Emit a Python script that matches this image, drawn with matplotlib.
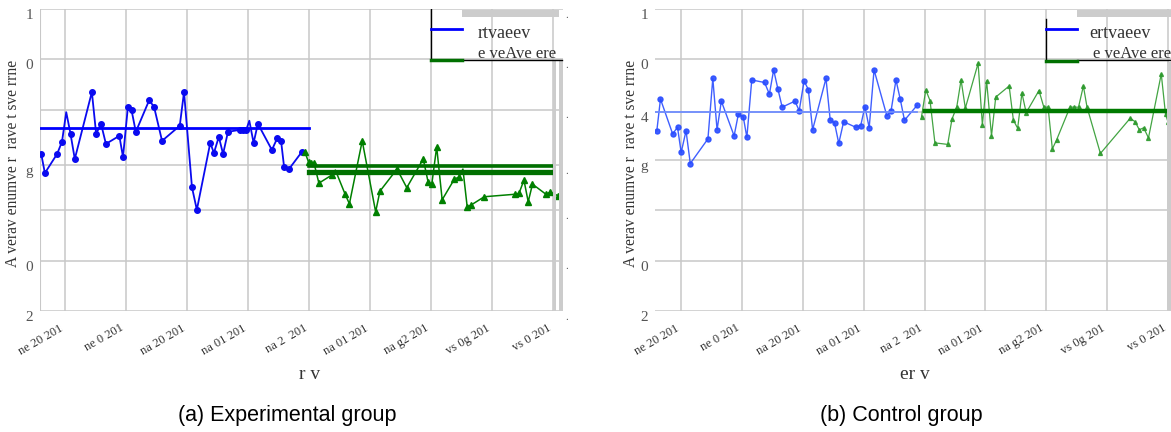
import matplotlib.pyplot as plt

# -------------------------------
# Data (x in tick intervals, y in grid units)
# -------------------------------

tick_labels = ["ne 20 201", "ne 0 201", "na 20 201", "na 01 201", "na 2  201",
               "na 01 201", "na g2 201", "vs 0g 201", "vs 0 201"]

# (a) experimental group
exp_before_x = [-0.39, -0.33, -0.13, -0.05, 0.02, 0.09, 0.16, 0.44, 0.51, 0.59,
                0.67, 0.89, 0.95, 1.03, 1.09, 1.16, 1.38, 1.46, 1.59, 1.88,
                1.95, 2.08, 2.16, 2.38, 2.44, 2.52, 2.59, 2.67, 2.87, 2.92,
                2.97, 3.02, 3.09, 3.16, 3.39, 3.48, 3.54, 3.59, 3.67, 3.88]
exp_before_y = [3.12, 2.74, 3.12, 3.36, 3.95, 3.52, 3.02, 4.35, 3.52, 3.72,
                3.32, 3.48, 3.06, 4.05, 3.99, 3.56, 4.19, 4.05, 3.38, 3.68,
                4.35, 2.46, 2.01, 3.34, 3.14, 3.46, 3.12, 3.56, 3.60, 3.60,
                3.60, 3.78, 3.34, 3.72, 3.20, 3.44, 3.38, 2.86, 2.82, 3.16]
exp_after_x = [3.93, 3.99, 4.03, 4.08, 4.16, 4.37, 4.43, 4.59, 4.66, 4.87,
               5.09, 5.16, 5.44, 5.60, 5.87, 5.95, 6.01, 6.09, 6.18, 6.38,
               6.45, 6.52, 6.59, 6.66, 6.87, 7.38, 7.44, 7.52, 7.59, 7.66,
               7.88, 7.95, 8.08]
exp_after_y = [3.16, 2.96, 2.94, 2.94, 2.54, 2.70, 2.80, 2.32, 2.13, 3.38,
               1.97, 2.38, 2.82, 2.45, 3.02, 2.56, 2.52, 3.26, 2.21, 2.62,
               2.66, 2.82, 2.07, 2.11, 2.27, 2.32, 2.34, 2.60, 2.17, 2.52,
               2.32, 2.36, 2.29]
exp_before_mean = 3.64
exp_after_means = [2.88, 2.76]

# (b) control group
ctl_before_x = [-0.40, -0.34, -0.14, -0.06, 0.00, 0.08, 0.15, 0.44, 0.52, 0.59,
                0.66, 0.87, 0.94, 1.02, 1.08, 1.16, 1.37, 1.45, 1.52, 1.59,
                1.66, 1.87, 1.94, 2.02, 2.09, 2.16, 2.38, 2.45, 2.52, 2.59,
                2.67, 2.87, 2.95, 3.02, 3.09, 3.17, 3.38, 3.45, 3.53, 3.60,
                3.67, 3.88]
ctl_before_y = [3.58, 4.21, 3.52, 3.65, 3.15, 3.58, 2.93, 3.42, 4.62, 3.60,
                4.17, 3.48, 3.91, 3.86, 3.45, 4.59, 4.54, 4.31, 4.79, 4.41,
                4.05, 4.17, 3.98, 4.57, 4.40, 3.60, 4.62, 3.79, 3.74, 3.33,
                3.76, 3.65, 3.68, 4.06, 3.64, 4.79, 3.88, 3.98, 4.59, 4.21,
                3.79, 4.09]
ctl_after_x = [3.95, 4.02, 4.09, 4.17, 4.38, 4.45, 4.53, 4.60, 4.67, 4.88,
               4.95, 5.02, 5.10, 5.17, 5.39, 5.46, 5.53, 5.60, 5.67, 5.88,
               5.96, 6.03, 6.10, 6.17, 6.39, 6.46, 6.53, 6.61, 6.67, 6.89,
               7.38, 7.46, 7.53, 7.60, 7.68, 7.89, 7.96, 8.00]
ctl_after_y = [3.86, 4.39, 4.18, 3.34, 3.31, 3.81, 4.06, 4.59, 4.03, 4.92,
               3.70, 4.57, 3.48, 4.25, 4.47, 3.79, 3.63, 4.33, 3.94, 4.38,
               4.05, 4.05, 3.22, 3.40, 4.05, 4.05, 4.05, 4.47, 4.05, 3.13,
               3.83, 3.76, 3.60, 3.64, 3.44, 4.71, 3.91, 3.76]
ctl_before_mean = 3.96
ctl_after_mean = 3.97

# vertices drawn without a marker
exp_before_plain = [4, 31]
exp_after_plain = [6, 21]

y_title = "A verav enumve r  rave t sve rrne"

plt.rcParams['font.family'] = ['Liberation Serif', 'DejaVu Serif']

W, H = 1171, 432
fig = plt.figure(figsize=(W / 100, H / 100), dpi=100)
ax_a = fig.add_axes([40 / W, 121 / H, 523 / W, 302 / H])
ax_b = fig.add_axes([655 / W, 121 / H, 516 / W, 302 / H])

GRID = '#c8c8c8'
BAR = '#cccccc'


def style_panel(ax, xlim, yticks, ylabels, xlabel, xlabel_x, ylabel_x):
    ax.set_xlim(xlim)
    ax.set_ylim(0, 6)
    for s in ax.spines.values():
        s.set_visible(False)
    ax.set_xticks(range(len(tick_labels)))
    ax.set_xticklabels(tick_labels, rotation=30, ha='right', va='top',
                       fontsize=9, color='#333333')
    ax.set_yticks(yticks)
    ax.set_yticklabels(ylabels, va='top', fontsize=11, color='#555555')
    ax.tick_params(axis='both', length=0)
    ax.tick_params(axis='y', pad=5)
    ax.tick_params(axis='x', pad=8)
    ax.grid(True, color=GRID, lw=1.1)
    ax.set_axisbelow(True)
    ax.set_ylabel(y_title, fontsize=11.2, color='#333333', va='center')
    ax.yaxis.set_label_coords(ylabel_x, 0.49)
    ax.set_xlabel(xlabel, fontsize=14, color='#333333', va='center')
    ax.xaxis.set_label_coords(xlabel_x, -0.21)


def frac(ax, x):
    x0, x1 = ax.get_xlim()
    return (x - x0) / (x1 - x0)


# -------------------------------
# (a) Experimental group
# -------------------------------
style_panel(ax_a, (-0.41, 8.16), [0, 1, 2, 2.9, 4, 5, 6],
            ["2", "0", "", "g", "", "0", "1"], "r v", 0.516, -0.052)
ax_a.axvline(-0.41, color=GRID, lw=1.5)

mark_a1 = [i for i in range(len(exp_before_x)) if i not in exp_before_plain]
mark_a2 = [i for i in range(len(exp_after_x)) if i not in exp_after_plain]
ax_a.plot(exp_before_x, exp_before_y, color='#0a0af0', lw=1.3, marker='o', ms=4,
          markevery=mark_a1, zorder=3)
ax_a.plot(exp_after_x, exp_after_y, color='#008000', lw=1.1, marker='^', ms=4,
          markevery=mark_a2, zorder=3, clip_on=False)
ax_a.plot([-0.41, 4.0], [exp_before_mean] * 2, color='#0000ff', lw=2, zorder=4)
ax_a.plot([4.0, 7.98], [exp_after_means[0]] * 2, color='#007000', lw=2.6, zorder=4)
ax_a.plot([4.0, 7.98], [exp_after_means[1]] * 2, color='#007000', lw=3.8, zorder=4)

ax_a.axvspan(7.995, 8.05, ymax=4.97 / 6, color=BAR, lw=0, zorder=5)
ax_a.axvspan(8.10, 8.16, ymax=4.97 / 6, color=BAR, lw=0, zorder=5)
ax_a.axhspan(5.84, 5.98, xmin=frac(ax_a, 6.5), xmax=frac(ax_a, 8.10), color=BAR, lw=0)
for yv in [6, 5, 4, 2.9, 2, 1, 0]:
    ax_a.text(8.2, yv - 0.12, '.', fontsize=8, color='#555555', va='center',
              clip_on=False)

# legend
ax_a.plot([6.0, 6.0], [4.99, 6.0], color='black', lw=1, zorder=6)
ax_a.plot([6.5, 8.14], [4.99, 4.99], color='black', lw=1, zorder=6, clip_on=False)
ax_a.plot([6.0, 6.51], [5.6, 5.6], color='#0000ff', lw=2, zorder=6)
ax_a.plot([6.0, 6.51], [4.99, 4.99], color='#007000', lw=2.5, zorder=6)
ax_a.text(6.76, 5.52, "rtvaeev", fontsize=13, color='#333333', va='center')
ax_a.text(6.76, 5.11, "e veAve ere", fontsize=12, color='#333333', va='center')

# -------------------------------
# (b) Control group
# -------------------------------
style_panel(ax_b, (-0.43, 8.05), [0, 1, 2, 3, 3.95, 5, 6],
            ["2", "0", "", "g", "4", "0", "1"], "er v", 0.504, -0.047)

ax_b.plot(ctl_before_x, ctl_before_y, color='#2a4dff', lw=1.0, marker='o', ms=3.6,
          alpha=0.9, zorder=3)
ax_b.plot(ctl_after_x, ctl_after_y, color='#2e9a2e', lw=0.9, marker='^', ms=2.8,
          alpha=0.9, zorder=3)
ax_b.plot([-0.43, 3.88], [ctl_before_mean] * 2, color='#6f8cff', lw=1.3, zorder=4)
ax_b.plot([4.01, 8.0], [ctl_after_mean] * 2, color='#007a00', lw=3.2, zorder=4)

ax_b.axvspan(7.98, 8.05, ymax=4.95 / 6, color=BAR, lw=0, zorder=5)
ax_b.axhspan(5.84, 5.98, xmin=frac(ax_b, 6.5), xmax=1.0, color=BAR, lw=0)

ax_b.plot([5.99, 5.99], [4.99, 5.80], color='black', lw=1, zorder=6)
ax_b.plot([6.5, 8.05], [4.99, 4.99], color='black', lw=1, zorder=6)
ax_b.plot([5.99, 6.5], [5.6, 5.6], color='#0000ff', lw=2, zorder=6)
ax_b.plot([5.99, 6.5], [4.97, 4.97], color='#007000', lw=2.5, zorder=6)
ax_b.text(6.70, 5.52, "ertvaeev", fontsize=13, color='#333333', va='center')
ax_b.text(6.76, 5.11, "e veAve ere", fontsize=12, color='#333333', va='center')

# captions
fig.text(287 / W, 1 - 416 / H, "(a) Experimental group", ha='center', va='center',
         family='Liberation Sans', fontsize=15.5)
fig.text(901 / W, 1 - 416 / H, "(b) Control group", ha='center', va='center',
         family='Liberation Sans', fontsize=15.5)

fig.savefig('out.png', dpi=100)
